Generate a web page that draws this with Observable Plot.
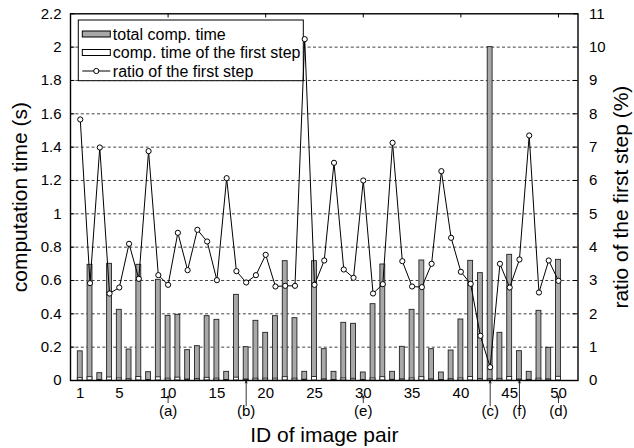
<!DOCTYPE html>
<html>
<head>
<meta charset="utf-8">
<script src="https://cdn.jsdelivr.net/npm/d3@7"></script>
<script src="https://cdn.jsdelivr.net/npm/@observablehq/plot@0.6"></script>
<style>
  html, body { margin: 0; padding: 0; background: white; }
</style>
</head>
<body>
<div id="chart"></div>
<script>
// Image pair IDs
const ids = [1, 2, 3, 4, 5, 6, 7, 8, 9, 10,
             11, 12, 13, 14, 15, 16, 17, 18, 19, 20,
             21, 22, 23, 24, 25, 26, 27, 28, 29, 30,
             31, 32, 33, 34, 35, 36, 37, 38, 39, 40,
             41, 42, 43, 44, 45, 46, 47, 48, 49, 50];

// Total computation time (s)
const totalTime = [0.175, 0.694, 0.044, 0.700, 0.424, 0.186, 0.694, 0.050, 0.604, 0.388,
                   0.394, 0.182, 0.206, 0.386, 0.364, 0.052, 0.514, 0.200, 0.358, 0.286,
                   0.386, 0.716, 0.374, 0.052, 0.716, 0.188, 0.052, 0.346, 0.340, 0.048,
                   0.458, 0.696, 0.052, 0.202, 0.424, 0.720, 0.188, 0.048, 0.180, 0.366,
                   0.718, 0.644, 2.000, 0.286, 0.754, 0.176, 0.052, 0.418, 0.196, 0.724];

// Computation time of the first step (s)
const firstStepTime = [0.014, 0.020, 0.003, 0.018, 0.012, 0.008, 0.021, 0.003, 0.019, 0.011,
                       0.017, 0.006, 0.009, 0.016, 0.011, 0.003, 0.017, 0.006, 0.011, 0.011,
                       0.011, 0.020, 0.011, 0.005, 0.021, 0.007, 0.003, 0.012, 0.010, 0.003,
                       0.012, 0.020, 0.004, 0.007, 0.012, 0.020, 0.007, 0.003, 0.008, 0.012,
                       0.021, 0.009, 0.008, 0.010, 0.021, 0.006, 0.004, 0.011, 0.007, 0.022];

// Ratio of the first step (%)
const ratioPct = [7.83, 2.92, 6.99, 2.61, 2.79, 4.10, 3.05, 6.88, 3.16, 2.87,
                  4.43, 3.31, 4.52, 4.17, 3.01, 6.07, 3.28, 2.94, 3.16, 3.77,
                  2.82, 2.84, 2.84, 10.24, 2.87, 3.60, 6.53, 3.33, 3.08, 6.00,
                  2.61, 2.89, 7.13, 3.58, 2.82, 2.80, 3.50, 6.28, 4.28, 3.26,
                  2.90, 1.34, 0.40, 3.50, 2.79, 3.63, 7.35, 2.64, 3.60, 2.99];

// Axis ticks
const xTicks = [1, 5, 10, 15, 20, 25, 30, 35, 40, 45, 50];
const xTopTicks = [10, 20, 30, 40, 50];
const leftTicks = [0, 0.2, 0.4, 0.6, 0.8, 1, 1.2, 1.4, 1.6, 1.8, 2, 2.2];
const gridTicks = [0.2, 0.4, 0.6, 0.8, 1, 1.2, 1.4, 1.6, 1.8, 2];
const rightTicks = [0, 1, 2, 3, 4, 5, 6, 7, 8, 9, 10, 11];

// Marked image pairs
const markedIds = [10, 18, 30, 43, 46, 50];
const markedLabels = ["(a)", "(b)", "(e)", "(c)", "(f)", "(d)"];

const legendItems = ["total comp. time", "comp. time of the first step", "ratio of the first step"];

// right axis (%) shares the left scale: 11 % <-> 2.2 s
const k = 2.2 / 11;

const rows = ids.map((id, i) => ({id, total: totalTime[i], first: firstStepTime[i], ratio: ratioPct[i]}));
const marks = markedIds.map((id, i) => ({id, label: markedLabels[i], short: xTicks.includes(id)}));

const GRAY = "#a8a8a8";
const FONT = "'Liberation Sans', Arial, Helvetica, sans-serif";

// legend box drawn as a render-function mark
function legendMark(index, scales, values, dims) {
  const g = d3.create("svg:g");
  const x0 = dims.marginLeft + 8.3, y0 = dims.marginTop + 6.7;
  const w = 225, h = 60.7, step = 18.5, first = 14;
  g.append("rect").attr("x", x0).attr("y", y0).attr("width", w).attr("height", h)
    .attr("fill", "white").attr("stroke", "black").attr("stroke-width", 1);
  legendItems.forEach((t, i) => {
    const cy = y0 + first + i * step;
    if (i < 2) {
      g.append("rect").attr("x", x0 + 4).attr("y", cy - 3).attr("width", 28).attr("height", 6)
        .attr("fill", i === 0 ? GRAY : "white").attr("stroke", "black").attr("stroke-width", 1);
    } else {
      g.append("line").attr("x1", x0 + 4).attr("x2", x0 + 32).attr("y1", cy).attr("y2", cy)
        .attr("stroke", "black").attr("stroke-width", 1);
      g.append("circle").attr("cx", x0 + 18).attr("cy", cy).attr("r", 2.6)
        .attr("fill", "white").attr("stroke", "black").attr("stroke-width", 1);
    }
    g.append("text").attr("x", x0 + 34.5).attr("y", cy).attr("dy", "0.35em")
      .attr("text-anchor", "start")
      .attr("font-size", 16).attr("font-family", FONT).attr("fill", "black").text(t);
  });
  return g.node();
}

const chart = Plot.plot({
  width: 634,
  height: 448,
  marginLeft: 70,
  marginRight: 56.5,
  marginTop: 13.3,
  marginBottom: 68,
  style: {fontFamily: FONT, fontSize: "15px", color: "black", background: "white", overflow: "visible"},
  x: {domain: [0, 52], label: null},
  y: {domain: [0, 2.2], label: null},
  marks: [
    // dashed grid
    Plot.ruleY(gridTicks, {stroke: "#111", strokeWidth: 0.8, strokeDasharray: "3,2.4"}),
    // bars
    Plot.rectY(rows, {x1: d => d.id - 0.25, x2: d => d.id + 0.25, y: "total",
      fill: GRAY, stroke: "#222", strokeWidth: 0.9}),
    Plot.rectY(rows, {x1: d => d.id - 0.25, x2: d => d.id + 0.25, y: "first",
      fill: "white", stroke: "#222", strokeWidth: 0.9}),
    // inward ticks
    Plot.ruleY(leftTicks, {x1: 0, x2: 0.45, stroke: "black"}),
    Plot.ruleY(rightTicks.map(r => r * k), {x1: 52, x2: 51.55, stroke: "black"}),
    Plot.ruleX(xTopTicks, {y1: 2.2, y2: 2.175, stroke: "black"}),
    // tick labels
    Plot.axisX(xTicks, {tickSize: 0, tickPadding: 7, tickFormat: d => String(d), label: null}),
    Plot.axisY(leftTicks, {anchor: "left", tickSize: 0, tickPadding: 9, tickFormat: d => String(d), label: null}),
    Plot.axisY(rightTicks.map(r => r * k), {anchor: "right", tickSize: 0, tickPadding: 11,
      tickFormat: d => String(Math.round(d / k)), label: null}),
    // legend
    legendMark,
    // ratio line on the right-hand scale
    Plot.line(rows, {x: "id", y: d => d.ratio * k, stroke: "black", strokeWidth: 1}),
    Plot.dot(rows, {x: "id", y: d => d.ratio * k, r: 2.6, fill: "white", stroke: "black", strokeWidth: 1}),
    // frame
    Plot.frame({stroke: "black", strokeWidth: 1.4}),
    // markers for selected image pairs
    Plot.arrow(marks, {x: "id", y1: d => d.short ? -0.133 : -0.152, y2: d => d.short ? -0.093 : -0.003,
      stroke: "black", strokeWidth: 0.8, headLength: 4, headAngle: 50}),
    Plot.text(marks, {x: "id", y: d => -0.184, text: "label", fontSize: 15}),
    // axis titles
    Plot.text(["computation time (s)"], {frameAnchor: "left", dx: -50, rotate: -90, fontSize: 21,
      textAnchor: "middle", lineAnchor: "middle"}),
    Plot.text(["ratio of the first step (%)"], {frameAnchor: "right", dx: 43.5, rotate: -90, fontSize: 21,
      textAnchor: "middle", lineAnchor: "middle"}),
    Plot.text(["ID of image pair"], {frameAnchor: "bottom", dy: 55, fontSize: 21,
      textAnchor: "middle", lineAnchor: "middle"})
  ]
});

document.getElementById("chart").appendChild(chart);
</script>
</body>
</html>
